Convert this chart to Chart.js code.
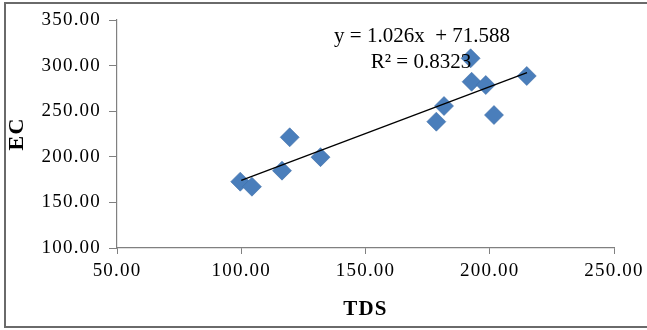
<!DOCTYPE html>
<html>
<head>
<meta charset="utf-8">
<script src="https://cdn.jsdelivr.net/npm/chart.js@4.4.1/dist/chart.umd.min.js"></script>
<style>
  html, body { margin: 0; padding: 0; background: #ffffff; }
  #wrap { position: relative; width: 647px; height: 330px; }
  #frame { position: absolute; left: 4px; top: 2px; width: 650px; height: 326px;
           border: 2px solid #6a6a6a; box-sizing: border-box; pointer-events: none; }
  canvas { position: absolute; left: 0; top: 0; }
</style>
</head>
<body>
<div id="wrap">
  <canvas id="c" width="647" height="330"></canvas>
  <div id="frame"></div>
</div>
<script>
// ---- data ----
const tdsValues = [99.6, 104.3, 116.4, 119.5, 131.9, 178.5, 181.6, 192.3, 192.7, 198.4, 201.7, 214.9];
const ecValues  = [172.7, 167.2, 184.8, 221.4, 199.6, 238.5, 255.7, 308.0, 282.3, 278.7, 245.8, 288.6];
const trendX = [100.0, 215.0];
const trendY = [174.2, 292.2];
const xTicks = [50, 100, 150, 200, 250];
const yTicks = [100, 150, 200, 250, 300, 350];
const equationText = 'y = 1.026x  + 71.588';
const r2Text = 'R\u00B2 = 0.8323';
const xTitle = 'TDS';
const yTitle = 'EC';

const scatterPoints = tdsValues.map((x, i) => ({ x: x, y: ecValues[i] }));
const trendPoints = trendX.map((x, i) => ({ x: x, y: trendY[i] }));

const serif = "'Liberation Serif', 'Times New Roman', serif";

const spacingPlugin = {
  id: 'spacing',
  beforeDraw(chart) { chart.ctx.letterSpacing = '1.2px'; },
  beforeDatasetsDraw(chart) { chart.ctx.letterSpacing = '0px'; },
  afterDraw(chart) {
    const ctx = chart.ctx;
    ctx.save();
    ctx.letterSpacing = '0px';
    ctx.fillStyle = '#000';
    ctx.font = '21px ' + serif;
    ctx.textAlign = 'center';
    ctx.textBaseline = 'middle';
    ctx.fillText(equationText, 422, 36);
    ctx.fillText(r2Text, 421, 62);
    ctx.restore();
  }
};

new Chart(document.getElementById('c'), {
  type: 'scatter',
  data: {
    datasets: [
      {
        label: 'Trend',
        type: 'line',
        data: trendPoints,
        borderColor: '#000000',
        borderWidth: 1.3,
        pointRadius: 0,
        fill: false,
        order: 0
      },
      {
        label: 'EC vs TDS',
        data: scatterPoints,
        pointStyle: 'rectRot',
        pointRadius: 9.5,
        pointHoverRadius: 9.5,
        backgroundColor: '#4A7EBB',
        borderColor: '#3F6FA8',
        borderWidth: 0.6,
        order: 1
      }
    ]
  },
  options: {
    responsive: false,
    animation: false,
    layout: { padding: { left: 0, top: 20, right: 33, bottom: 0 } },
    plugins: { legend: { display: false }, tooltip: { enabled: false } },
    scales: {
      x: {
        type: 'linear',
        min: xTicks[0],
        max: xTicks[xTicks.length - 1],
        afterBuildTicks(scale) { scale.ticks = xTicks.map(v => ({ value: v })); },
        afterFit(scale) { scale.height = 82; },
        grid: { display: true, drawOnChartArea: false, drawTicks: true, tickLength: 6, tickColor: '#808080', color: '#808080' },
        border: { display: true, color: '#808080', width: 1.2 },
        ticks: {
          color: '#000',
          font: { family: serif, size: 19 },
          padding: 6,
          maxRotation: 0,
          callback: v => Number(v).toFixed(2)
        },
        title: {
          display: true,
          text: xTitle,
          color: '#000',
          font: { family: serif, size: 21, weight: 'bold' },
          padding: { top: 0, bottom: 8 }
        }
      },
      y: {
        type: 'linear',
        min: yTicks[0],
        max: yTicks[yTicks.length - 1],
        afterBuildTicks(scale) { scale.ticks = yTicks.map(v => ({ value: v })); },
        afterFit(scale) { scale.width = 117; },
        grid: { display: true, drawOnChartArea: false, drawTicks: true, tickLength: 8, tickColor: '#808080', color: '#808080' },
        border: { display: true, color: '#808080', width: 1.2 },
        ticks: {
          color: '#000',
          font: { family: serif, size: 19 },
          padding: 8,
          callback: v => Number(v).toFixed(2)
        },
        title: {
          display: true,
          text: yTitle,
          color: '#000',
          font: { family: serif, size: 22, weight: 'bold' },
          padding: { top: 4, bottom: 0 }
        }
      }
    }
  },
  plugins: [spacingPlugin]
});
</script>
</body>
</html>
